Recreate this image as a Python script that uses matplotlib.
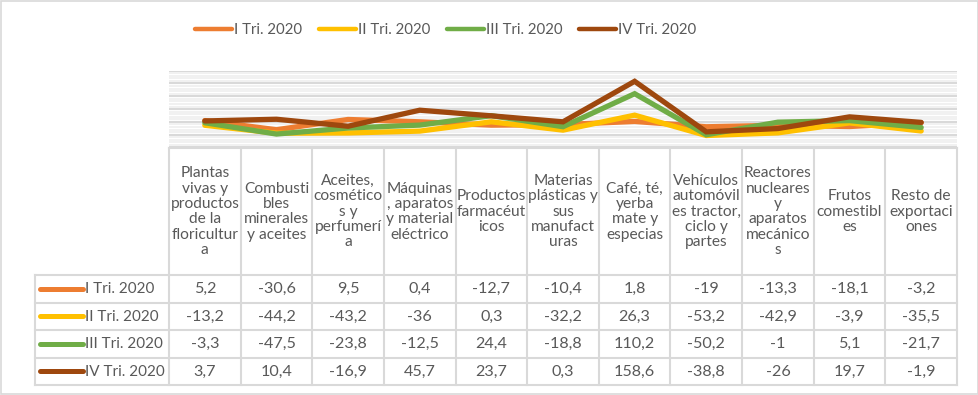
import matplotlib
matplotlib.use("Agg")
import matplotlib.pyplot as plt
from matplotlib.lines import Line2D
from matplotlib.patches import Rectangle

categories = [
    "Plantas\nvivas y\nproductos\nde la\nfloricultur\na",
    "Combusti\nbles\nminerales\ny aceites",
    "Aceites,\ncosmético\ns y\nperfumerí\na",
    "Máquinas\n, aparatos\ny material\neléctrico",
    "Productos\nfarmacéut\nicos",
    "Materias\nplásticas y\nsus\nmanufact\nuras",
    "Café, té,\nyerba\nmate y\nespecias",
    "Vehículos\nautomóvil\nes tractor,\nciclo y\npartes",
    "Reactores\nnucleares\ny\naparatos\nmecánico\ns",
    "Frutos\ncomestibl\nes",
    "Resto de\nexportaci\nones",
]
series_names = ["I Tri. 2020", "II Tri. 2020", "III Tri. 2020", "IV Tri. 2020"]
q1 = [5.2, -30.6, 9.5, 0.4, -12.7, -10.4, 1.8, -19, -13.3, -18.1, -3.2]
q2 = [-13.2, -44.2, -43.2, -36, 0.3, -32.2, 26.3, -53.2, -42.9, -3.9, -35.5]
q3 = [-3.3, -47.5, -23.8, -12.5, 24.4, -18.8, 110.2, -50.2, -1, 5.1, -21.7]
q4 = [3.7, 10.4, -16.9, 45.7, 23.7, 0.3, 158.6, -38.8, -26, 19.7, -1.9]
series = [q1, q2, q3, q4]
colors = ["#ED7D31", "#FFC000", "#70AD47", "#9E480E"]

FONT = "Lato"
TXT = "#595959"
GRID = "#D9D9D9"

W, H = 979, 395
fig = plt.figure(figsize=(W / 100, H / 100), dpi=100)

# plot area (pixel coordinates of the reference)
L, R, T, B = 169, 957, 70.7, 147.5
ax = fig.add_axes([L / W, 1 - B / H, (R - L) / W, (B - T) / H])
n = len(categories)
x = list(range(n))
for s, c, name in zip(series, colors, series_names):
    ax.plot(x, s, color=c, lw=3.8, solid_capstyle="round", solid_joinstyle="miter", label=name, zorder=3)
ax.set_xlim(-0.5, n - 0.5)
ax.set_ylim(-100, 200)
ax.set_yticks(range(-100, 201, 50))
ax.set_yticks(range(-100, 201, 10), minor=True)
ax.grid(axis="y", which="minor", color="#F0F0F0", lw=1.3, zorder=0)
ax.grid(axis="y", which="major", color=GRID, lw=1.5, zorder=1)
ax.set_xticks([])
ax.tick_params(axis="y", which="both", left=False, labelleft=False)
for sp in ["left", "right", "top"]:
    ax.spines[sp].set_visible(False)
ax.spines["bottom"].set_color(GRID)
ax.spines["bottom"].set_linewidth(1.5)
ax.patch.set_alpha(0)

# overlay for table and legend
ov = fig.add_axes([0, 0, 1, 1], zorder=-1)
ov.set_xlim(0, W)
ov.set_ylim(H, 0)
ov.axis("off")

# outer border
ov.add_patch(Rectangle((0.5, 0.5), W - 1.5, H - 2, fill=False, ec=GRID, lw=1.2))

# top legend
leg_x = [195, 319, 447, 579]
for lx, c, name in zip(leg_x, colors, series_names):
    ov.add_line(Line2D([lx, lx + 37], [29, 29], color=c, lw=3.2, solid_capstyle="round"))
    ov.text(lx + 39, 29.5, name, ha="left", va="center", fontsize=10.8, color=TXT, family=FONT)

# table
cw = (R - L) / n
col_edges = [L + i * cw for i in range(n + 1)]
row_edges = [275, 302.5, 330, 357.5, 385]
lw_t = 1.5
for xe in col_edges:
    ov.add_line(Line2D([xe, xe], [B, row_edges[-1]], color=GRID, lw=lw_t))
ov.add_line(Line2D([35, 35], [row_edges[0], row_edges[-1]], color=GRID, lw=lw_t))
for ye in row_edges:
    ov.add_line(Line2D([35, R], [ye, ye], color=GRID, lw=lw_t))

# header
for i, cat in enumerate(categories):
    cx = (col_edges[i] + col_edges[i + 1]) / 2
    ov.text(cx, (B + row_edges[0]) / 2 + 0.5, cat, ha="center", va="center", fontsize=11.2,
            color=TXT, family=FONT, linespacing=1.12)

def fmt(v):
    return f"{v:g}".replace(".", ",")

for r, (s, c, name) in enumerate(zip(series, colors, series_names)):
    cy = (row_edges[r] + row_edges[r + 1]) / 2
    ov.add_line(Line2D([40, 83], [cy, cy], color=c, lw=3.6, solid_capstyle="round"))
    ov.text(85, cy + 0.5, name, ha="left", va="center", fontsize=11, color=TXT, family=FONT)
    for i, v in enumerate(s):
        cx = (col_edges[i] + col_edges[i + 1]) / 2
        ov.text(cx, cy + 0.5, fmt(v), ha="center", va="center", fontsize=11.6, color=TXT, family=FONT)

fig.savefig("out.png", dpi=100)
